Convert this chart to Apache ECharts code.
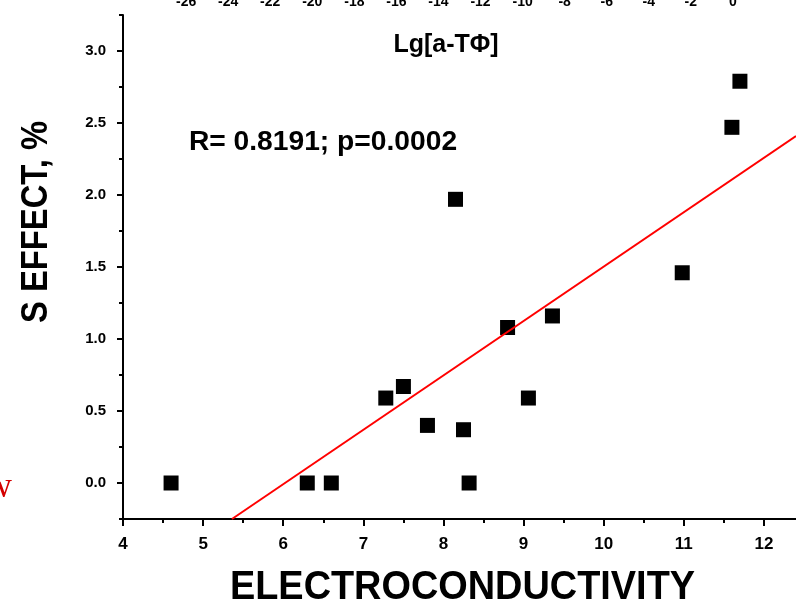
<!DOCTYPE html>
<html>
<head>
<meta charset="utf-8">
<title>S effect vs electroconductivity</title>
<script src="https://cdn.jsdelivr.net/npm/echarts@6.0.0/dist/echarts.min.js"></script>
<style>
  html, body { margin: 0; padding: 0; background: #fff; }
  #chart { width: 796px; height: 606px; }
</style>
</head>
<body>
<div id="chart"></div>
<script>
// values
var conductivity = [4.6, 6.3, 6.6, 7.28, 7.5, 7.8, 8.15, 8.25, 8.32, 8.8, 9.06, 9.36, 10.98, 11.6, 11.7];
var sEffect = [0, 0, 0, 0.59, 0.67, 0.40, 1.97, 0.37, 0, 1.08, 0.59, 1.16, 1.46, 2.47, 2.79];
// regression line end points
var fitX = [5.36, 12.4];
var fitY = [-0.25, 2.41];

var xMajorTicks = [4, 5, 6, 7, 8, 9, 10, 11, 12];
var xMinorTicks = [4.5, 5.5, 6.5, 7.5, 8.5, 9.5, 10.5, 11.5];
var yMajorTicks = [0, 0.5, 1, 1.5, 2, 2.5, 3];
var yMinorTicks = [-0.25, 0.25, 0.75, 1.25, 1.75, 2.25, 2.75, 3.25];
var topTicks = [-26, -24, -22, -20, -18, -16, -14, -12, -10, -8, -6, -4, -2, 0];

var FONT = '"Liberation Sans", Arial, sans-serif';

var points = conductivity.map(function (x, i) {
  return [x, sEffect[i]];
});
var fitLine = fitX.map(function (x, i) {
  return [x, fitY[i]];
});

var labelStyle = {
  color: '#000',
  fontFamily: FONT,
  fontWeight: 'bold',
  fontSize: 15
};

var myChart = echarts.init(document.getElementById('chart'));
myChart.setOption({
  animation: false,
  backgroundColor: '#fff',
  grid: { left: 123, right: 0, top: 15, bottom: 87, containLabel: false, outerBoundsMode: 'none' },
  xAxis: [
    {
      type: 'value',
      position: 'bottom',
      min: 4,
      max: 12.4,
      axisLine: { onZero: false, lineStyle: { color: '#000', width: 2 } },
      axisTick: { customValues: xMajorTicks, length: 7, lineStyle: { color: '#000', width: 2 } },
      axisLabel: Object.assign({ customValues: xMajorTicks, margin: 17 }, labelStyle, { fontSize: 17 }),
      splitLine: { show: false }
    },
    {
      // minor ticks only
      type: 'value',
      position: 'bottom',
      min: 4,
      max: 12.4,
      axisLine: { show: false, onZero: false },
      axisTick: { customValues: xMinorTicks, length: 4, lineStyle: { color: '#000', width: 2 } },
      axisLabel: { show: false },
      splitLine: { show: false }
    },
    {
      // Lg[a-TΦ] scale along the top
      type: 'value',
      position: 'top',
      min: -29,
      max: 3,
      axisLine: { show: false, onZero: false },
      axisTick: { show: false },
      axisLabel: Object.assign({ customValues: topTicks, margin: 6 }, labelStyle, { fontSize: 14 }),
      splitLine: { show: false }
    }
  ],
  yAxis: [
    {
      type: 'value',
      position: 'left',
      min: -0.25,
      max: 3.25,
      axisLine: { show: true, onZero: false, lineStyle: { color: '#000', width: 2 } },
      axisTick: { show: true, customValues: yMajorTicks, length: 6, lineStyle: { color: '#000', width: 2 } },
      axisLabel: Object.assign({
        customValues: yMajorTicks,
        margin: 17,
        formatter: function (v) { return v.toFixed(1); }
      }, labelStyle),
      splitLine: { show: false }
    },
    {
      // minor ticks only
      type: 'value',
      position: 'left',
      min: -0.25,
      max: 3.25,
      axisLine: { show: false, onZero: false },
      axisTick: { show: true, customValues: yMinorTicks, length: 4, lineStyle: { color: '#000', width: 2 } },
      axisLabel: { show: false },
      splitLine: { show: false }
    }
  ],
  series: [
    {
      type: 'scatter',
      data: points,
      symbol: 'rect',
      symbolSize: 15,
      itemStyle: { color: '#000', opacity: 1 }
    },
    {
      type: 'line',
      data: fitLine,
      symbol: 'none',
      z: 5,
      lineStyle: { color: '#ff0000', width: 2 }
    }
  ],
  graphic: [
    {
      type: 'text',
      x: 446, y: 45,
      style: {
        text: 'Lg[a-TΦ]', fill: '#000',
        font: 'bold 25px ' + FONT,
        textAlign: 'center', textVerticalAlign: 'middle'
      }
    },
    {
      type: 'text',
      x: 323, y: 143,
      scaleX: 1.045,
      style: {
        text: 'R= 0.8191; p=0.0002', fill: '#000',
        font: 'bold 27px ' + FONT,
        textAlign: 'center', textVerticalAlign: 'middle'
      }
    },
    {
      type: 'text',
      x: 37, y: 222,
      rotation: Math.PI / 2,
      scaleX: 0.91,
      style: {
        text: 'S EFFECT, %', fill: '#000',
        font: 'bold 36px ' + FONT,
        textAlign: 'center', textVerticalAlign: 'middle'
      }
    },
    {
      type: 'text',
      x: 462.5, y: 588,
      scaleX: 0.947,
      style: {
        text: 'ELECTROCONDUCTIVITY', fill: '#000',
        font: 'bold 40px ' + FONT,
        textAlign: 'center', textVerticalAlign: 'middle'
      }
    },
    {
      type: 'text',
      x: 12, y: 488,
      style: {
        text: 'w', fill: '#d40000',
        font: '36px "Liberation Serif", serif',
        textAlign: 'right', textVerticalAlign: 'middle'
      }
    }
  ]
});
</script>
</body>
</html>
